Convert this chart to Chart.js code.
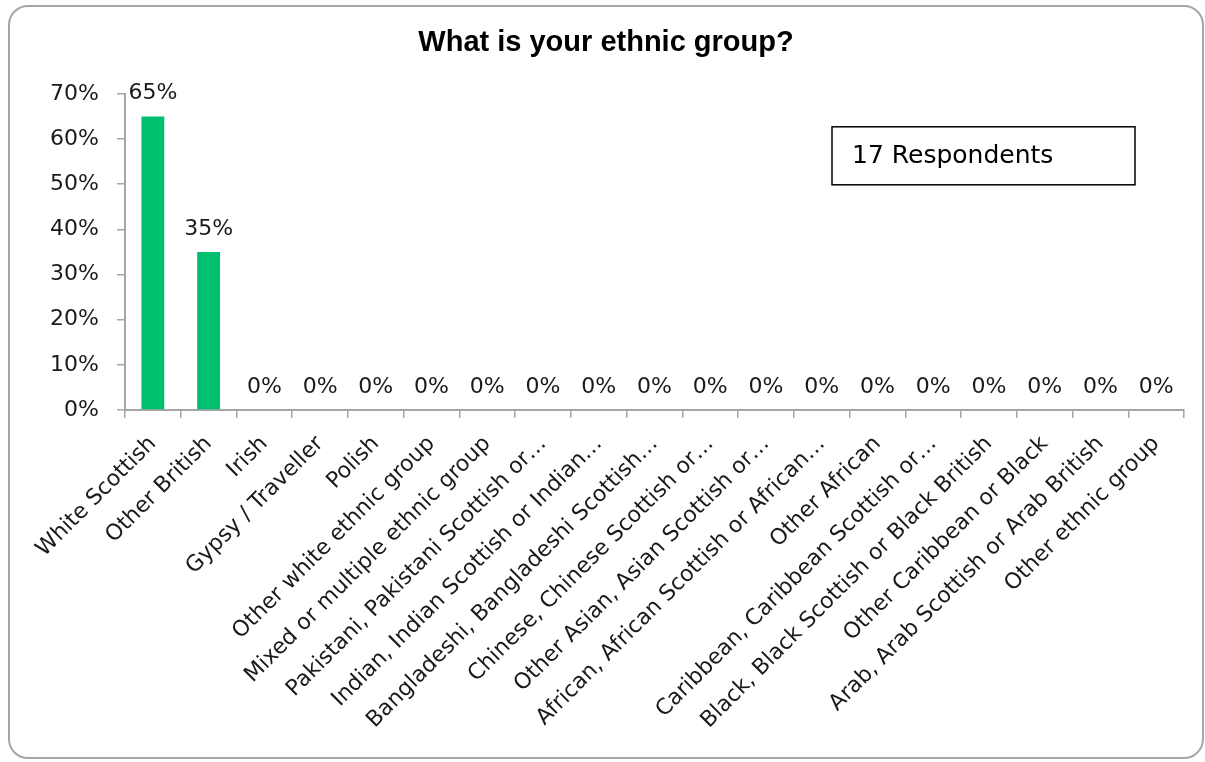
<!DOCTYPE html>
<html>
<head>
<meta charset="utf-8">
<script src="https://cdn.jsdelivr.net/npm/chart.js@4"></script>
<style>
  html, body { margin: 0; padding: 0; background: #fff; }
  #frame {
    position: absolute; left: 8px; top: 5px; width: 1192px; height: 750px;
    border: 2px solid #a6a6a6; border-radius: 20px; pointer-events: none;
  }
  #wrap { position: absolute; left: 0; top: 0; width: 1205px; height: 762px; }
</style>
</head>
<body>
<div id="wrap"><canvas id="ethnicChart" width="1205" height="762"></canvas></div>
<div id="frame"></div>
<script>
const categories = [
  'White Scottish',
  'Other British',
  'Irish',
  'Gypsy / Traveller',
  'Polish',
  'Other white ethnic group',
  'Mixed or multiple ethnic group',
  'Pakistani, Pakistani Scottish or…',
  'Indian, Indian Scottish or Indian…',
  'Bangladeshi, Bangladeshi Scottish…',
  'Chinese, Chinese Scottish or…',
  'Other Asian, Asian Scottish or…',
  'African, African Scottish or African…',
  'Other African',
  'Caribbean, Caribbean Scottish or…',
  'Black, Black Scottish or Black British',
  'Other Caribbean or Black',
  'Arab, Arab Scottish or Arab British',
  'Other ethnic group'
];
const percentages = [65, 35, 0, 0, 0, 0, 0, 0, 0, 0, 0, 0, 0, 0, 0, 0, 0, 0, 0];
const respondents = 17;
const yMax = 70;
const yStep = 10;

const TEXT = '#1a1a1a';
const AXIS = '#a6a6a6';

// value labels over each bar
const barValues = {
  id: 'barValues',
  afterDatasetsDraw(chart) {
    const ctx = chart.ctx;
    const meta = chart.getDatasetMeta(0);
    ctx.save();
    ctx.font = '22px "DejaVu Sans"';
    ctx.fillStyle = TEXT;
    ctx.textAlign = 'center';
    ctx.textBaseline = 'alphabetic';
    meta.data.forEach((bar, i) => {
      ctx.fillText(percentages[i] + '%', bar.x, bar.y - 17);
    });
    ctx.restore();
  }
};

// boxed respondent count in the top right of the plot
const respondentBox = {
  id: 'respondentBox',
  afterDraw(chart) {
    const ctx = chart.ctx;
    const a = chart.chartArea;
    const x = a.right - 352, y = a.top + 33, w = 303, h = 58;
    ctx.save();
    ctx.strokeStyle = '#000';
    ctx.lineWidth = 1.5;
    ctx.strokeRect(x, y, w, h);
    ctx.font = '25px "DejaVu Sans"';
    ctx.fillStyle = '#000';
    ctx.textBaseline = 'middle';
    ctx.fillText(respondents + ' Respondents', x + 20, y + h / 2 + 1);
    ctx.restore();
  }
};

new Chart(document.getElementById('ethnicChart'), {
  type: 'bar',
  data: {
    labels: categories,
    datasets: [{
      data: percentages,
      backgroundColor: '#00bf6f',
      categoryPercentage: 0.82,
      barPercentage: 0.5
    }]
  },
  options: {
    responsive: false,
    animation: false,
    layout: { padding: { top: 19, left: 7, right: 0, bottom: 0 } },
    plugins: {
      legend: { display: false },
      tooltip: { enabled: false },
      title: {
        display: true,
        text: 'What is your ethnic group?',
        color: '#000',
        font: { family: 'Liberation Sans', size: 29, weight: 'bold' },
        padding: { top: 7, bottom: 33 }
      }
    },
    scales: {
      x: {
        grid: { display: true, drawOnChartArea: false, offset: true, color: AXIS, lineWidth: 1.5, tickLength: 8 },
        border: { display: true, color: AXIS, width: 2 },
        ticks: {
          color: TEXT,
          font: { family: 'DejaVu Sans', size: 22 },
          minRotation: 45,
          maxRotation: 45,
          autoSkip: false,
          padding: 13
        },
        afterFit(scale) { scale.height = 352; }
      },
      y: {
        min: 0,
        max: yMax,
        grid: { display: true, drawOnChartArea: false, color: AXIS, lineWidth: 1.5, tickLength: 8 },
        border: { display: true, color: AXIS, width: 2 },
        ticks: {
          stepSize: yStep,
          color: TEXT,
          font: { family: 'DejaVu Sans', size: 22 },
          padding: 18,
          callback: v => v + '%'
        },
        afterFit(scale) { scale.width = 118; }
      },
      // empty strip on the right so the plot stops short of the frame
      yRight: {
        position: 'right',
        min: 0,
        max: yMax,
        grid: { display: false },
        border: { display: false },
        ticks: { display: false },
        afterFit(scale) { scale.width = 21; }
      }
    }
  },
  plugins: [barValues, respondentBox]
});
</script>
</body>
</html>
